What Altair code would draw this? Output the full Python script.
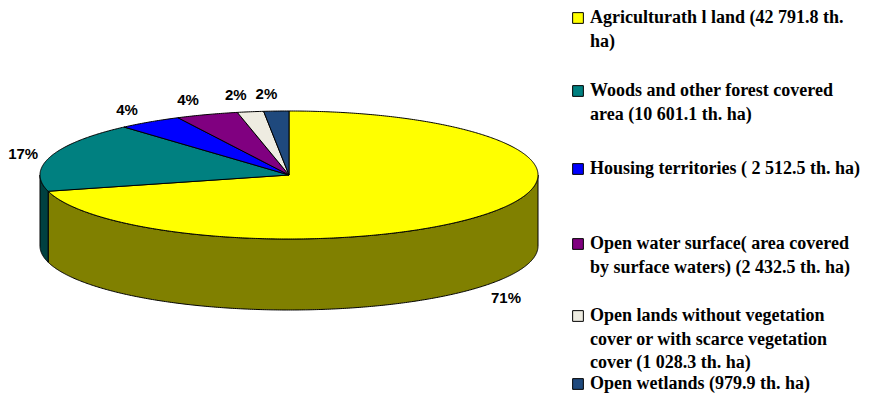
import altair as alt
import numpy as np
import pandas as pd

# ---------------- data ----------------
names = [
    "Agricultural land",
    "Woods and other forest covered area",
    "Housing territories",
    "Open water surface",
    "Open lands without vegetation",
    "Open wetlands",
]
values = [42791.8, 10601.1, 2512.5, 2432.5, 1028.3, 979.9]
pct_labels = ["71%", "17%", "4%", "4%", "2%", "2%"]
legend_labels = [
    "Agriculturath l land (42 791.8  th.\nha)",
    "Woods and other forest covered\narea (10 601.1 th. ha)",
    "Housing territories ( 2 512.5 th. ha)",
    "Open water surface( area  covered\nby surface waters) (2 432.5 th. ha)",
    "Open lands without vegetation\ncover or with scarce vegetation\ncover (1 028.3 th. ha)",
    "Open wetlands (979.9 th. ha)",
]
top_colors = ["#FFFF00", "#008080", "#0000FF", "#800080", "#EEECE1", "#1F497D"]
side_colors = ["#808000", "#004040", "#000080", "#400040", "#77766F", "#10253F"]

# ---------------- layout (pixels) ----------------
W, H = 853, 386
CX, CY, A, B, D = 289, 175, 249, 64, 71
LEG_X_SQ, LEG_X_TXT, LINE_H = 578, 590, 23.5
LEG_ROWS = [18, 91, 169, 244, 316, 384]

total = sum(values)
fr = np.cumsum([0] + values) / total
starts = fr[:-1] * 360
ends = fr[1:] * 360

top_rows, side_rows, lab_rows = [], [], []
for k, (s, e) in enumerate(zip(starts, ends)):
    n = max(3, int((e - s) / 0.5) + 1)
    ts = np.radians(np.linspace(s, e, n))
    pts = [(CX, CY)] + [(CX + A * np.sin(t), CY - B * np.cos(t)) for t in ts] + [(CX, CY)]
    for i, (x, y) in enumerate(pts):
        top_rows.append({"key": names[k], "i": i, "x": x, "y": y})
    lo, hi = max(s, 90), min(e, 270)
    if lo < hi:
        n = max(3, int((hi - lo) / 0.5) + 1)
        for i, t in enumerate(np.radians(np.linspace(lo, hi, n))):
            yt = CY - B * np.cos(t)
            side_rows.append({"key": names[k] + " side",
                              "x": CX + A * np.sin(t), "y": yt, "y2": yt + D})
    m = np.radians((s + e) / 2)
    sn, cs = np.sin(m), np.cos(m)
    px = CX + A * sn
    py = CY - B * cs + (D if cs < 0 else 0)
    lab_rows.append({"label": pct_labels[k],
                     "x": px + 28 * np.sign(sn) * abs(sn) ** 0.35 - (6 if cs < 0 else 0),
                     "y": py - 17 * cs + 3 * abs(sn)})

top_df = pd.DataFrame(top_rows)
side_df = pd.DataFrame(side_rows)
lab_df = pd.DataFrame(lab_rows)

line_rows = []
for k, lab in enumerate(legend_labels):
    for j, txt in enumerate(lab.split("\n")):
        line_rows.append({"key": names[k], "j": j, "text": txt,
                          "ly": LEG_ROWS[k] + j * LINE_H})
leg_df = pd.DataFrame(line_rows)

color_scale = alt.Scale(domain=names + [n + " side" for n in names],
                        range=top_colors + side_colors)
xs = alt.Scale(domain=[8, 8 + W])
ys = alt.Scale(domain=[8, 8 + H], reverse=True)

X = alt.X("x:Q", scale=xs, axis=None)
Y = alt.Y("y:Q", scale=ys, axis=None, stack=None)
C = alt.Color("key:N", scale=color_scale, legend=None)

sides = alt.Chart(side_df).mark_area(stroke="black", strokeWidth=1, opacity=1).encode(
    x=X, y=Y, y2="y2:Q", color=C)

tops = alt.Chart(top_df).mark_line(filled=True, stroke="black", strokeWidth=1,
                                   strokeJoin="round").encode(
    x=X, y=Y, color=C, detail="key:N", order="i:Q")

labels = alt.Chart(lab_df).mark_text(font="Liberation Sans", fontWeight="bold",
                                     fontSize=15, color="black").encode(
    x=X, y=Y, text="label:N")

leg_base = alt.Chart(leg_df).transform_calculate(
    sx=f"{LEG_X_SQ}", tx=f"{LEG_X_TXT}")

leg_sq = leg_base.transform_filter("datum.j == 0").mark_square(
    size=115, stroke="black", strokeWidth=1, opacity=1).encode(
    x=alt.X("sx:Q", scale=xs, axis=None), y=alt.Y("ly:Q", scale=ys, axis=None), color=C)

leg_txt = leg_base.mark_text(font="Liberation Serif", fontWeight="bold", fontSize=18,
                             align="left", baseline="middle", color="black").encode(
    x=alt.X("tx:Q", scale=xs, axis=None), y=alt.Y("ly:Q", scale=ys, axis=None),
    text="text:N")

chart = alt.layer(sides, tops, labels, leg_sq, leg_txt).properties(
    width=W, height=H, padding=0, autosize="none"
).configure_view(stroke=None)

chart.save("out.html", embed_options={"renderer": "svg", "actions": False})
